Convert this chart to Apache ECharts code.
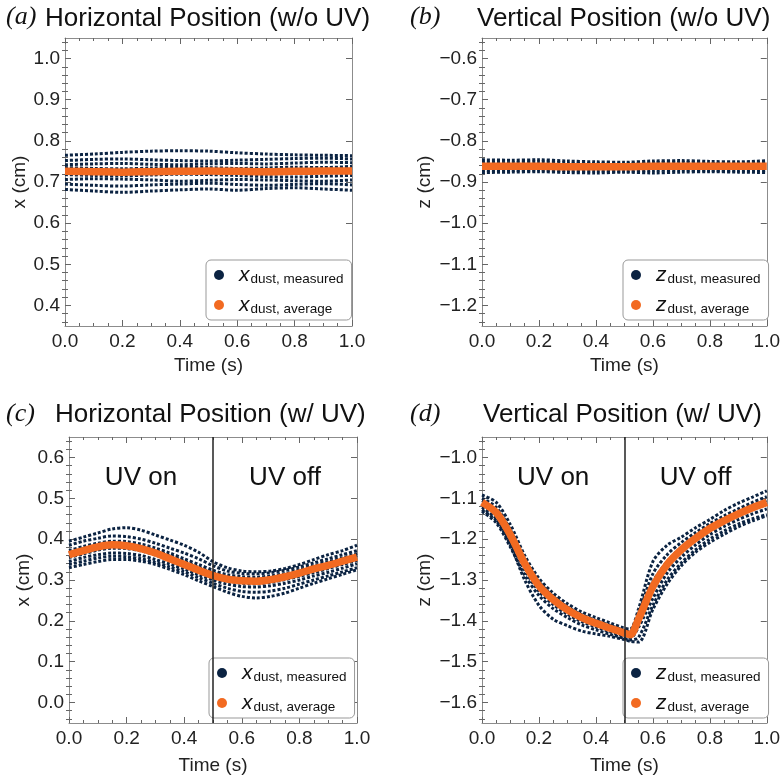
<!DOCTYPE html>
<html>
<head>
<meta charset="utf-8">
<script src="https://cdn.jsdelivr.net/npm/echarts@6/dist/echarts.min.js"></script>
<style>
  html, body { margin: 0; background: #fff; }
  #main { width: 783px; height: 777px; }
</style>
</head>
<body>
<div id="main"></div>
<script>
// time samples (s)
var tFlat = [0, 0.1, 0.2, 0.3, 0.4, 0.5, 0.6, 0.7, 0.8, 0.9, 1.0];
var tWave = [0, 0.05, 0.1, 0.15, 0.2, 0.25, 0.3, 0.35, 0.4, 0.45, 0.5, 0.55, 0.6, 0.65, 0.7, 0.75, 0.8, 0.85, 0.9, 0.95, 1.0];
var tD = [0, 0.05, 0.1, 0.15, 0.2, 0.25, 0.3, 0.35, 0.4, 0.45, 0.5, 0.52, 0.55, 0.6, 0.65, 0.7, 0.75, 0.8, 0.85, 0.9, 0.95, 1.0];

// (a) horizontal, no UV
var aTrack1 = [0.765, 0.768, 0.772, 0.775, 0.776, 0.775, 0.771, 0.768, 0.766, 0.765, 0.764];
var aTrack2 = [0.752, 0.755, 0.756, 0.754, 0.752, 0.751, 0.753, 0.755, 0.757, 0.758, 0.756];
var aTrack3 = [0.742, 0.744, 0.745, 0.743, 0.742, 0.744, 0.745, 0.744, 0.746, 0.748, 0.747];
var aTrack4 = [0.735, 0.733, 0.732, 0.734, 0.736, 0.735, 0.733, 0.734, 0.736, 0.735, 0.738];
var aTrack5 = [0.718, 0.716, 0.715, 0.717, 0.719, 0.718, 0.716, 0.713, 0.712, 0.714, 0.716];
var aTrack6 = [0.706, 0.708, 0.707, 0.705, 0.702, 0.704, 0.706, 0.705, 0.703, 0.702, 0.705];
var aTrack7 = [0.695, 0.692, 0.690, 0.693, 0.695, 0.697, 0.694, 0.692, 0.694, 0.696, 0.693];
var aTrack8 = [0.682, 0.678, 0.675, 0.678, 0.681, 0.683, 0.680, 0.684, 0.686, 0.683, 0.680];
var aAvg = [0.726, 0.725, 0.724, 0.725, 0.726, 0.727, 0.726, 0.725, 0.726, 0.727, 0.727];

// (b) vertical, no UV
var bTrack1 = [-0.846, -0.847, -0.846, -0.849, -0.851, -0.852, -0.849, -0.848, -0.850, -0.851, -0.848];
var bTrack2 = [-0.852, -0.853, -0.851, -0.854, -0.855, -0.856, -0.853, -0.852, -0.855, -0.854, -0.852];
var bTrack3 = [-0.858, -0.857, -0.858, -0.859, -0.858, -0.857, -0.856, -0.858, -0.858, -0.857, -0.856];
var bTrack4 = [-0.866, -0.865, -0.867, -0.866, -0.867, -0.866, -0.865, -0.866, -0.867, -0.866, -0.866];
var bTrack5 = [-0.871, -0.872, -0.871, -0.873, -0.873, -0.874, -0.872, -0.871, -0.872, -0.873, -0.871];
var bTrack6 = [-0.877, -0.876, -0.875, -0.877, -0.878, -0.876, -0.878, -0.876, -0.875, -0.876, -0.877];
var bAvg = [-0.862, -0.862, -0.862, -0.863, -0.863, -0.863, -0.862, -0.862, -0.862, -0.862, -0.862];

// (c) horizontal, with UV
var cTrack1 = [0.395, 0.405, 0.415, 0.425, 0.428, 0.422, 0.410, 0.398, 0.385, 0.368, 0.345, 0.330, 0.322, 0.320, 0.322, 0.328, 0.338, 0.350, 0.362, 0.372, 0.385];
var cTrack2 = [0.385, 0.395, 0.402, 0.408, 0.406, 0.400, 0.390, 0.378, 0.366, 0.352, 0.335, 0.322, 0.316, 0.315, 0.318, 0.324, 0.332, 0.342, 0.352, 0.362, 0.372];
var cTrack3 = [0.372, 0.382, 0.390, 0.395, 0.394, 0.388, 0.378, 0.366, 0.352, 0.338, 0.324, 0.313, 0.308, 0.307, 0.310, 0.316, 0.325, 0.335, 0.345, 0.354, 0.365];
var cTrack4 = [0.365, 0.375, 0.384, 0.389, 0.388, 0.382, 0.372, 0.360, 0.346, 0.331, 0.318, 0.308, 0.303, 0.302, 0.305, 0.311, 0.320, 0.330, 0.339, 0.349, 0.360];
var cTrack5 = [0.355, 0.364, 0.373, 0.378, 0.377, 0.371, 0.361, 0.349, 0.336, 0.322, 0.308, 0.298, 0.292, 0.291, 0.294, 0.301, 0.309, 0.318, 0.328, 0.338, 0.348];
var cTrack6 = [0.345, 0.355, 0.362, 0.366, 0.365, 0.360, 0.350, 0.339, 0.327, 0.313, 0.300, 0.290, 0.284, 0.283, 0.286, 0.292, 0.300, 0.310, 0.319, 0.329, 0.340];
var cTrack7 = [0.338, 0.346, 0.354, 0.358, 0.357, 0.352, 0.343, 0.332, 0.320, 0.306, 0.292, 0.280, 0.272, 0.270, 0.273, 0.280, 0.290, 0.300, 0.310, 0.320, 0.330];
var cTrack8 = [0.330, 0.338, 0.345, 0.350, 0.350, 0.346, 0.338, 0.326, 0.313, 0.298, 0.284, 0.270, 0.260, 0.256, 0.260, 0.268, 0.280, 0.292, 0.303, 0.314, 0.325];
var cAvg = [0.362, 0.372, 0.381, 0.386, 0.384, 0.377, 0.366, 0.352, 0.338, 0.324, 0.311, 0.302, 0.298, 0.297, 0.301, 0.308, 0.317, 0.327, 0.336, 0.346, 0.356];

// (d) vertical, with UV
var dTrack1 = [-1.092, -1.110, -1.165, -1.240, -1.296, -1.332, -1.358, -1.378, -1.392, -1.405, -1.418, -1.420, -1.370, -1.255, -1.215, -1.195, -1.172, -1.152, -1.130, -1.112, -1.097, -1.082];
var dTrack2 = [-1.100, -1.122, -1.178, -1.250, -1.304, -1.340, -1.366, -1.385, -1.399, -1.411, -1.424, -1.428, -1.382, -1.285, -1.238, -1.208, -1.184, -1.162, -1.143, -1.126, -1.110, -1.096];
var dTrack3 = [-1.106, -1.130, -1.186, -1.256, -1.310, -1.345, -1.370, -1.390, -1.404, -1.416, -1.428, -1.432, -1.392, -1.305, -1.255, -1.220, -1.193, -1.170, -1.151, -1.134, -1.118, -1.105];
var dTrack4 = [-1.114, -1.140, -1.196, -1.265, -1.318, -1.352, -1.377, -1.396, -1.409, -1.421, -1.433, -1.437, -1.402, -1.325, -1.270, -1.232, -1.203, -1.179, -1.160, -1.143, -1.128, -1.115];
var dTrack5 = [-1.122, -1.150, -1.208, -1.276, -1.328, -1.360, -1.384, -1.402, -1.415, -1.427, -1.438, -1.442, -1.415, -1.345, -1.283, -1.244, -1.214, -1.189, -1.169, -1.152, -1.138, -1.126];
var dTrack6 = [-1.132, -1.160, -1.220, -1.288, -1.338, -1.370, -1.392, -1.410, -1.422, -1.433, -1.443, -1.447, -1.440, -1.362, -1.300, -1.258, -1.226, -1.200, -1.180, -1.163, -1.150, -1.140];
var dTrack7 = [-1.128, -1.155, -1.215, -1.300, -1.362, -1.396, -1.412, -1.425, -1.432, -1.438, -1.446, -1.450, -1.452, -1.372, -1.310, -1.265, -1.232, -1.208, -1.188, -1.170, -1.155, -1.143];
var dAvg = [-1.110, -1.135, -1.190, -1.260, -1.314, -1.348, -1.373, -1.392, -1.406, -1.418, -1.430, -1.434, -1.395, -1.316, -1.262, -1.226, -1.198, -1.174, -1.155, -1.138, -1.123, -1.110];

// tick labels
var xTicks = [0, 0.2, 0.4, 0.6, 0.8, 1.0];
var aTicksY = [0.4, 0.5, 0.6, 0.7, 0.8, 0.9, 1.0];
var bTicksY = [-1.2, -1.1, -1.0, -0.9, -0.8, -0.7, -0.6];
var cTicksY = [0.0, 0.1, 0.2, 0.3, 0.4, 0.5, 0.6];
var dTicksY = [-1.6, -1.5, -1.4, -1.3, -1.2, -1.1, -1.0];

var chart = echarts.init(document.getElementById('main'));

var font = "'Liberation Sans', Arial, sans-serif";
var navy = '#0b2342';
var orange = '#f26a21';
var frame = '#8c8c8c';
var tickCol = '#666';

var panels = [
  { key: 'a', letter: '(a)', title: 'Horizontal Position (w/o UV)', v: 'x', yName: 'x (cm)',
    yMin: 0.35, yMax: 1.05, yTicks: aTicksY, t: tFlat,
    tracks: [aTrack1, aTrack2, aTrack3, aTrack4, aTrack5, aTrack6, aTrack7, aTrack8], avg: aAvg,
    grid: { left: 65, top: 38, width: 287, height: 288 }, yGap: 36, xGap: 30,
    legend: { left: 206, top: 260 }, letterPos: [6, 4], titlePos: [45, 6], uv: null },
  { key: 'b', letter: '(b)', title: 'Vertical Position (w/o UV)', v: 'z', yName: 'z (cm)',
    yMin: -1.25, yMax: -0.55, yTicks: bTicksY, t: tFlat,
    tracks: [bTrack1, bTrack2, bTrack3, bTrack4, bTrack5, bTrack6], avg: bAvg,
    grid: { left: 482, top: 38, width: 288, height: 288 }, yGap: 48, xGap: 30,
    legend: { left: 623, top: 260 }, letterPos: [410, 4], titlePos: [477, 6], uv: null },
  { key: 'c', letter: '(c)', title: 'Horizontal Position (w/ UV)', v: 'x', yName: 'x (cm)',
    yMin: -0.05, yMax: 0.65, yTicks: cTicksY, t: tWave,
    tracks: [cTrack1, cTrack2, cTrack3, cTrack4, cTrack5, cTrack6, cTrack7, cTrack8], avg: cAvg,
    grid: { left: 69, top: 437, width: 288, height: 286 }, yGap: 35, xGap: 33,
    legend: { left: 209, top: 658 }, letterPos: [6, 401], titlePos: [55, 402], uv: 0.55 },
  { key: 'd', letter: '(d)', title: 'Vertical Position (w/ UV)', v: 'z', yName: 'z (cm)',
    yMin: -1.65, yMax: -0.95, yTicks: dTicksY, t: tD,
    tracks: [dTrack1, dTrack2, dTrack3, dTrack4, dTrack5, dTrack6, dTrack7], avg: dAvg,
    grid: { left: 482, top: 437, width: 288, height: 286 }, yGap: 48, xGap: 33,
    legend: { left: 623, top: 658 }, letterPos: [410, 401], titlePos: [483, 402], uv: -1.05 }
];

function fmt(v) {
  return (v < 0 ? '\u2212' : '') + Math.abs(v).toFixed(1);
}

var grids = [], xAxes = [], yAxes = [], series = [], legends = [], titles = [];

panels.forEach(function (p, i) {
  grids.push(Object.assign({}, p.grid));

  // bottom + top x axes (frame with ticks on both)
  var xBase = {
    type: 'value', gridIndex: i, min: 0, max: 1, interval: 0.2,
    axisLine: { onZero: false, lineStyle: { color: frame, width: 1 } },
    splitLine: { show: false },
    axisTick: { inside: true, length: 6, lineStyle: { color: tickCol } },
    minorTick: { show: true, splitNumber: 4, length: 3, lineStyle: { color: tickCol } }
  };
  xAxes.push(Object.assign({}, xBase, {
    position: 'bottom', name: 'Time (s)', nameLocation: 'middle', nameGap: p.xGap,
    nameTextStyle: { fontFamily: font, fontSize: 19, color: '#222' },
    axisLabel: { fontFamily: font, fontSize: 19, color: '#222', margin: 6, formatter: fmt }
  }));
  xAxes.push(Object.assign({}, xBase, { position: 'top', axisLabel: { show: false } }));

  // minor y ticks every 0.02
  var minor = [];
  for (var k = Math.ceil(p.yMin * 50 + 1e-9); k <= Math.floor(p.yMax * 50 - 1e-9); k++) {
    if (k % 5 !== 0) minor.push(k / 50);
  }
  var yBase = {
    type: 'value', gridIndex: i, min: p.yMin, max: p.yMax,
    splitLine: { show: false },
    axisLine: { onZero: false, lineStyle: { color: frame, width: 1 } }
  };
  yAxes.push(Object.assign({}, yBase, {
    position: 'left', name: p.yName, nameLocation: 'middle', nameGap: p.yGap,
    nameTextStyle: { fontFamily: font, fontSize: 19, color: '#222' },
    axisTick: { inside: true, length: 6, customValues: p.yTicks, lineStyle: { color: tickCol } },
    axisLabel: { customValues: p.yTicks, fontFamily: font, fontSize: 19, color: '#222', margin: 5, formatter: fmt }
  }));
  yAxes.push(Object.assign({}, yBase, {
    position: 'left', axisLine: { show: false },
    axisTick: { inside: true, length: 3, customValues: minor, lineStyle: { color: tickCol } },
    axisLabel: { show: false }
  }));
  yAxes.push(Object.assign({}, yBase, {
    position: 'right',
    axisTick: { inside: true, length: 6, customValues: p.yTicks, lineStyle: { color: tickCol } },
    axisLabel: { show: false }
  }));
  yAxes.push(Object.assign({}, yBase, {
    position: 'right', axisLine: { show: false },
    axisTick: { inside: true, length: 3, customValues: minor, lineStyle: { color: tickCol } },
    axisLabel: { show: false }
  }));

  // measured tracks
  p.tracks.forEach(function (tr) {
    series.push({
      name: p.key + 'm', type: 'line', xAxisIndex: i * 2, yAxisIndex: i * 4,
      data: p.t.map(function (t, j) { return [t, tr[j]]; }),
      symbol: 'none', smooth: 0.3, silent: true, z: 2,
      lineStyle: { color: navy, width: 3, type: [3, 2] },
      itemStyle: { color: navy }
    });
  });

  // average
  var avgSeries = {
    name: p.key + 'a', type: 'line', xAxisIndex: i * 2, yAxisIndex: i * 4,
    data: p.t.map(function (t, j) { return [t, p.avg[j]]; }),
    symbol: 'none', smooth: 0.3, silent: true, z: 3,
    lineStyle: { color: orange, width: 7.5 },
    itemStyle: { color: orange }
  };
  if (p.uv !== null) {
    avgSeries.markLine = {
      silent: true, symbol: 'none', label: { show: false },
      lineStyle: { color: '#222', width: 1.5, type: 'solid' },
      data: [{ xAxis: 0.5 }]
    };
    avgSeries.markPoint = {
      silent: true, symbol: 'circle', symbolSize: 0,
      label: { show: true, position: 'inside', formatter: '{b}', fontFamily: font, fontSize: 26, color: '#111' },
      data: [{ name: 'UV on', coord: [0.25, p.uv] }, { name: 'UV off', coord: [0.75, p.uv] }]
    };
  }
  series.push(avgSeries);

  legends.push({
    orient: 'vertical', left: p.legend.left, top: p.legend.top,
    data: [{ name: p.key + 'm', icon: 'circle' }, { name: p.key + 'a', icon: 'circle' }],
    itemWidth: 10, itemHeight: 10, itemGap: 8, padding: [4, 8, 4, 8],
    backgroundColor: '#fff', borderColor: '#999', borderWidth: 1, borderRadius: 5,
    selectedMode: false,
    formatter: function (name) {
      var sub = name.charAt(1) === 'm' ? 'dust, measured' : 'dust, average';
      return '{i|' + p.v + '}{s|' + sub + '}';
    },
    textStyle: {
      rich: {
        i: { fontFamily: font, fontStyle: 'italic', fontSize: 21, color: '#111', lineHeight: 22, padding: [0, 0, 0, 10] },
        s: { fontFamily: font, fontSize: 13.5, color: '#111', lineHeight: 22, padding: [8, 0, 0, 1] }
      }
    }
  });

  titles.push({
    text: p.letter, left: p.letterPos[0], top: p.letterPos[1], padding: 0,
    textStyle: { fontFamily: "'Liberation Serif', 'Times New Roman', serif", fontStyle: 'italic', fontWeight: 'normal', fontSize: 26, color: '#111' }
  });
  titles.push({
    text: p.title, left: p.titlePos[0], top: p.titlePos[1], padding: 0,
    textStyle: { fontFamily: font, fontWeight: 'normal', fontSize: 26, color: '#111' }
  });
});

chart.setOption({
  animation: false,
  backgroundColor: '#fff',
  title: titles,
  legend: legends,
  grid: grids,
  xAxis: xAxes,
  yAxis: yAxes,
  series: series
});
</script>
</body>
</html>
